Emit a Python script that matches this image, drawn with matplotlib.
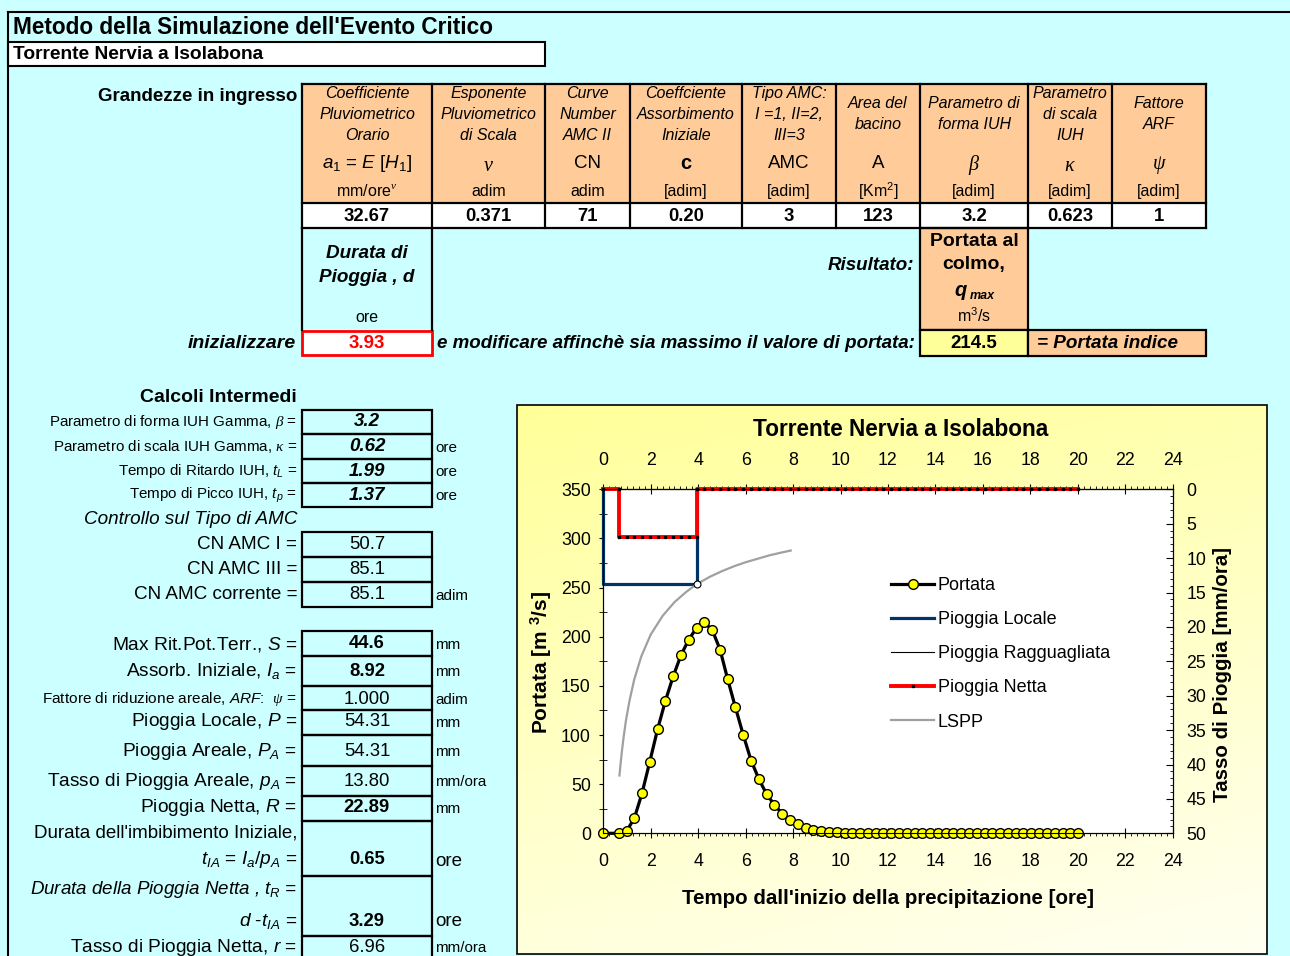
import matplotlib
matplotlib.use("Agg")
import matplotlib.pyplot as plt
import numpy as np
from matplotlib.lines import Line2D
from matplotlib.ticker import MultipleLocator

plt.rcParams['font.family'] = ['Liberation Sans', 'DejaVu Sans']
plt.rcParams['mathtext.fontset'] = 'custom'
plt.rcParams['mathtext.rm'] = 'Liberation Sans'
plt.rcParams['mathtext.it'] = 'Liberation Sans:italic'
plt.rcParams['mathtext.bf'] = 'Liberation Sans:bold'
plt.rcParams['mathtext.sf'] = 'Liberation Serif:italic'

# ---- input table ----
head_lines = [["Coefficiente", "Pluviometrico", "Orario"],
              ["Esponente", "Pluviometrico", "di Scala"],
              ["Curve", "Number", "AMC II"],
              ["Coeffciente", "Assorbimento", "Iniziale"],
              ["Tipo AMC:", "I =1, II=2,", "III=3"],
              ["Area del", "bacino"],
              ["Parametro di", "forma IUH"],
              ["Parametro", "di scala", "IUH"],
              ["Fattore", "ARF"]]
head_symbols = [r"$a$$_{1}$ = $E$ [$H$$_{1}$]", r"$\mathsf{\nu}$", "CN", "c", "AMC", "A",
                r"$\mathsf{\beta}$", r"$\mathsf{\kappa}$", r"$\mathsf{\psi}$"]
head_units = [r"mm/ore$^{\mathsf{\nu}}$", "adim", "adim", "[adim]", "[adim]", r"[Km$^{2}$]",
              "[adim]", "[adim]", "[adim]"]
head_values = ["32.67", "0.371", "71", "0.20", "3", "123", "3.2", "0.623", "1"]
durata_d = "3.93"
q_max = "214.5"

# ---- intermediate calculations ----
calc_labels = [r"Parametro di forma IUH Gamma, $\mathsf{\beta}$ =",
               r"Parametro di scala IUH Gamma, $\mathsf{\kappa}$ =",
               r"Tempo di Ritardo IUH, $t_{L}$ =",
               r"Tempo di Picco IUH, $t_{p}$ ="]
calc_values = ["3.2", "0.62", "1.99", "1.37"]
calc_units = ["", "ore", "ore", "ore"]
amc_labels = ["CN AMC I =", "CN AMC III =", "CN AMC corrente ="]
amc_values = ["50.7", "85.1", "85.1"]
amc_units = ["", "", "adim"]
res_labels = [r"Max Rit.Pot.Terr., $S$ =", r"Assorb. Iniziale, $I_{a}$ =",
              r"Fattore di riduzione areale, $ARF$:  $\mathsf{\psi}$ =",
              r"Pioggia Locale, $P$ =", r"Pioggia Areale, $P_{A}$ =",
              r"Tasso di Pioggia Areale, $p_{A}$ =", r"Pioggia Netta, $R$ =",
              r"$t_{IA}$ = $I_{a}$/$p_{A}$ =", r"$d$ -$t_{IA}$ =",
              r"Tasso di Pioggia Netta, $r$ ="]
res_values = ["44.6", "8.92", "1.000", "54.31", "54.31", "13.80", "22.89", "0.65", "3.29", "6.96"]
res_units = ["mm", "mm", "adim", "mm", "mm", "mm/ora", "mm", "ore", "ore", "mm/ora"]
res_bold = [True, True, False, False, False, False, True, True, True, False]

# ---- chart data ----
t_ore = [0, 0.65, 0.98, 1.31, 1.63, 1.96, 2.29, 2.62, 2.95, 3.27, 3.60, 3.93, 4.26, 4.59,
         4.92, 5.24, 5.57, 5.90, 6.23, 6.56, 6.88, 7.21, 7.54, 7.87, 8.20, 8.53, 8.85, 9.18,
         9.51, 9.84, 10.17, 10.49, 10.82, 11.15, 11.48, 11.81, 12.14, 12.46, 12.79, 13.12,
         13.45, 13.78, 14.10, 14.43, 14.76, 15.09, 15.42, 15.75, 16.07, 16.40, 16.73, 17.06,
         17.39, 17.71, 18.04, 18.37, 18.70, 19.03, 19.36, 19.68, 20.01]
portata = [0, 0, 2, 15.6, 40.5, 73, 106, 135, 160, 181, 197, 209, 214.5, 207, 187, 157,
           128, 100, 74, 55, 40, 29, 20, 14, 9.5, 5.4, 3.4, 2.0, 1.2, 1.0, 0.5, 0.3, 0.2,
           0.1] + [0] * 27
locale_t = [0, 0, 3.93, 3.93]
locale_r = [0, 13.80, 13.80, 0]
ragg_t = [0, 0, 3.93, 3.93]
ragg_r = [0, 13.80, 13.80, 0]
netta_t = [0, 0.65] + t_ore[1:12] + t_ore[11:]
netta_r = [0, 0] + [6.96] * 11 + [0] * 50
lspp_t = [0.68, 0.72, 0.78, 0.85, 0.95, 1.1, 1.3, 1.6, 2.0, 2.5, 3.0, 3.5, 3.93, 4.5,
          5.0, 5.5, 6.0, 6.5, 7.0, 7.5, 7.9]
lspp_r = [41.6, 40.2, 38.2, 36.2, 33.7, 30.8, 27.7, 24.3, 21.1, 18.4, 16.4, 14.9, 13.8,
          12.7, 11.9, 11.2, 10.6, 10.1, 9.6, 9.2, 8.9]

CYAN, ORANGE, YELLOW = '#CCFFFF', '#FFCC99', '#FFFF99'

fig = plt.figure(figsize=(12.9, 9.56), dpi=100, facecolor=CYAN)
bg = fig.add_axes([0, 0, 1, 1]); bg.set_xlim(0, 1290); bg.set_ylim(956, 0); bg.axis('off')
bg.set_zorder(0)

def rect(x0, y0, x1, y1, fc='none', ec='black', lw=1.5, z=2):
    bg.add_patch(plt.Rectangle((x0, y0), x1 - x0, y1 - y0, fc=fc, ec=ec, lw=lw, zorder=z))

def line(xs, ys, lw=1.5, c='black'):
    bg.plot(xs, ys, color=c, lw=lw, zorder=3, solid_capstyle='projecting')

def txt(x, y, s, size=11, ha='center', weight='normal', style='normal', color='black', rot=0):
    bg.text(x, y, s, fontsize=size, ha=ha, va='center', fontweight=weight, fontstyle=style,
            color=color, rotation=rot, zorder=4)

# sheet frame & title
line([8, 1290], [12, 12]); line([8, 8], [12, 956])
txt(13, 27, "Metodo della Simulazione dell'Evento Critico", size=16.3, ha='left', weight='bold')
rect(8, 42, 545, 66, fc='white')
txt(13, 54, "Torrente Nervia a Isolabona", size=13.8, ha='left', weight='bold')

# input table
col_edges = [302, 432, 545, 630, 742, 836, 920, 1028, 1112, 1206]
rect(302, 84, 1206, 203, fc=ORANGE, lw=0)
rect(302, 203, 1206, 228, fc='white', lw=0)
for y in [84, 203, 228]:
    line([302, 1206], [y, y], lw=1.6)
for x in col_edges:
    line([x, x], [84, 228], lw=1.6)
txt(297, 96, "Grandezze in ingresso", size=13.5, ha='right', weight='bold')
for i, lines_ in enumerate(head_lines):
    cx = (col_edges[i] + col_edges[i + 1]) / 2
    ys = [93, 114, 135] if len(lines_) == 3 else [103, 124]
    for s, y in zip(lines_, ys):
        txt(cx, y, s, size=11.5, style='italic')
    txt(cx, 165 if i in (1, 6, 7, 8) else 163, head_symbols[i],
        size=14.5 if i in (1, 3, 6, 7, 8) else 13.5,
        weight='bold' if i == 3 else 'normal')
    txt(cx, 191, head_units[i], size=11.5)
    txt(cx, 216, head_values[i], size=13.3, weight='bold')

# durata / result row
line([302, 302], [228, 330], lw=1.6); line([432, 432], [228, 330], lw=1.6)
txt(367, 253, "Durata di", size=13.6, weight='bold', style='italic')
txt(367, 278, "Pioggia , d", size=13.6, weight='bold', style='italic')
txt(367, 318, "ore", size=11.5)
rect(920, 228, 1028, 330, fc=ORANGE, lw=1.6)
txt(914, 266, "Risultato:", size=13.5, ha='right', weight='bold', style='italic')
txt(974, 241, "Portata al", size=14, weight='bold')
txt(974, 265, "colmo,", size=14, weight='bold')
txt(961, 291, "q", size=14.5, weight='bold', style='italic')
txt(982, 296, "max", size=9, weight='bold', style='italic')
txt(974, 316, r"m$^{3}$/s", size=11.5)
rect(302, 331, 432, 355, fc='white', ec='#FF0000', lw=2)
txt(367, 343, durata_d, size=13.5, weight='bold', color='#FF0000')
txt(296, 343, "inizializzare", size=14, ha='right', weight='bold', style='italic')
txt(437, 343, "e modificare affinchè sia massimo il valore di portata:", size=13.5, ha='left',
    weight='bold', style='italic')
rect(920, 330, 1028, 356, fc=YELLOW, lw=1.6)
txt(974, 343, q_max, size=13.5, weight='bold')
rect(1028, 330, 1206, 356, fc=ORANGE, lw=1.6)
txt(1037, 343, "= Portata indice", size=13.6, ha='left', weight='bold', style='italic')

# intermediate calcs
txt(297, 397, "Calcoli Intermedi", size=14, ha='right', weight='bold')
rows = [410, 434, 459, 483, 507]
for i in range(4):
    rect(302, rows[i], 432, rows[i + 1], lw=1.6)
    yc = (rows[i] + rows[i + 1]) / 2
    txt(297, yc, calc_labels[i], size=10.9, ha='right')
    txt(367, yc, calc_values[i], size=13.5, weight='bold', style='italic')
    txt(435, yc + 1, calc_units[i], size=11, ha='left')
txt(297, 520, "Controllo sul Tipo di AMC", size=13.6, ha='right', style='italic')
rows = [532, 557, 582, 607]
for i in range(3):
    rect(302, rows[i], 432, rows[i + 1], lw=1.6)
    yc = (rows[i] + rows[i + 1]) / 2
    txt(297, yc, amc_labels[i], size=13.6, ha='right')
    txt(367, yc, amc_values[i], size=13.3)
    txt(435, yc + 1, amc_units[i], size=11, ha='left')

rows = [631, 656, 686, 710, 735, 766, 796, 821, 876, 936, 962]
val_y = [644, 671, 699, 722, 751, 781, 808, 860, 921, 947]
for i in range(10):
    rect(302, rows[i], 432, rows[i + 1], lw=1.6)
    lsize = 11.1 if i == 2 else 13.8
    txt(297, val_y[i], res_labels[i], size=lsize, ha='right')
    txt(367, val_y[i], res_values[i], size=13.3, weight='bold' if res_bold[i] else 'normal')
    txt(435, val_y[i] + 1, res_units[i], size=13.5 if i in (7, 8) else 10.9, ha='left')
txt(297, 833, "Durata dell'imbibimento Iniziale,", size=13.5, ha='right')
txt(297, 890, r"Durata della Pioggia Netta , $t_{R}$ =", size=13.5, ha='right', style='italic')

# chart box with gradient
gy = np.linspace(0, 1, 256)[:, None]
gx = np.linspace(0, 1, 256)[None, :]
g = np.clip(0.75 * gy + 0.25 * gx, 0, 1)
img = np.dstack([np.ones_like(g), np.ones_like(g), 0.60 + 0.35 * g])
bg.imshow(img, extent=[517, 1267, 954, 405], aspect='auto', zorder=1)
rect(517, 405, 1267, 954, lw=1.2, z=2)
txt(901, 429, "Torrente Nervia a Isolabona", size=16.3, weight='bold')
txt(888, 899, "Tempo dall'inizio della precipitazione [ore]", size=14.8, weight='bold')
txt(541, 662, r"Portata [m $^{\mathbf{3}}$/s]", size=15, weight='bold', rot=90)
txt(1222, 674, "Tasso di Pioggia [mm/ora]", size=14.8, weight='bold', rot=90)

ax = fig.add_axes([603.3 / 1290, (956 - 833.3) / 956, 569.4 / 1290, 344 / 956])
ax.set_zorder(2)
ax.set_facecolor('white')
ax.set_xlim(0, 24); ax.set_ylim(0, 350)
ax.xaxis.set_major_locator(MultipleLocator(2)); ax.xaxis.set_minor_locator(MultipleLocator(0.25))
ax.yaxis.set_major_locator(MultipleLocator(50)); ax.yaxis.set_minor_locator(MultipleLocator(25))
ax.tick_params(axis='x', which='major', direction='inout', length=7, labelsize=12.8, pad=11)
ax.tick_params(axis='x', which='minor', direction='out', length=2.5)
ax.tick_params(axis='y', which='major', direction='out', length=3, labelsize=12.8, pad=6)
ax.tick_params(axis='y', which='minor', direction='inout', length=6)
top = ax.secondary_xaxis('top')
top.xaxis.set_major_locator(MultipleLocator(2)); top.xaxis.set_minor_locator(MultipleLocator(0.25))
top.tick_params(axis='x', which='major', direction='inout', length=7, labelsize=12.8, pad=11)
top.tick_params(axis='x', which='minor', direction='out', length=2.5)

ax.plot(t_ore, portata, color='black', lw=2.3, marker='o', ms=7, mfc='#FFFF00', mec='black',
        mew=1, clip_on=False, zorder=5)

ax2 = ax.twinx()
ax2.set_zorder(3)
ax2.set_ylim(50, 0)
ax2.yaxis.set_major_locator(MultipleLocator(5)); ax2.yaxis.set_minor_locator(MultipleLocator(1))
ax2.tick_params(axis='y', which='major', direction='in', length=5, labelsize=12.8, pad=10)
ax2.tick_params(axis='y', which='minor', direction='in', length=2.5)
ax2.plot(ragg_t, ragg_r, color='black', lw=0.8, clip_on=False)
ax2.plot(locale_t, locale_r, color='#003366', lw=2.3, clip_on=False)
ax2.plot(lspp_t, lspp_r, color='#A0A0A0', lw=1.6)
ax2.plot(netta_t, netta_r, color='#FF0000', lw=2.8, marker='s', ms=2, mfc='black', mec='black',
         clip_on=False)
ax2.plot([3.93], [13.80], 'o', mfc='white', mec='black', ms=5, mew=0.8, zorder=6)

handles = [Line2D([], [], color='black', lw=2.3, marker='o', ms=7, mfc='#FFFF00', mec='black'),
           Line2D([], [], color='#003366', lw=2.3),
           Line2D([], [], color='black', lw=0.8),
           Line2D([], [], color='#FF0000', lw=2.8, marker='s', ms=2, mfc='black', mec='black'),
           Line2D([], [], color='#A0A0A0', lw=1.6)]
labels = ["Portata", "Pioggia Locale", "Pioggia Ragguagliata", "Pioggia Netta", "LSPP"]
ax2.legend(handles, labels, loc='upper left', bbox_to_anchor=(891 / 1290, 1 - 577 / 956),
           bbox_transform=fig.transFigure, frameon=False, fontsize=13, handlelength=2.4,
           handletextpad=0.2, labelspacing=0.95, borderpad=0, borderaxespad=0)

fig.savefig("out.png", dpi=100, facecolor=CYAN)
